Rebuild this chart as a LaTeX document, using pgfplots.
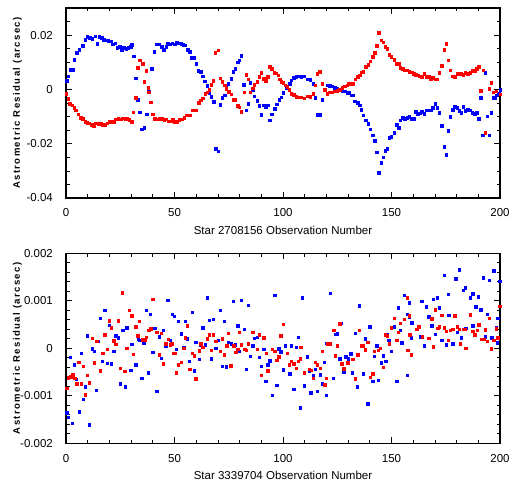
\documentclass[border=0pt]{standalone}
\usepackage{fontspec}
\setmainfont{Liberation Sans}
\newfontfamily\ylabfont[LetterSpace=15]{Liberation Sans}
\usepackage{pgfplots}
\pgfplotsset{compat=1.18}
\definecolor{ptblue}{RGB}{0,0,255}
\definecolor{ptred}{RGB}{255,0,0}
\pgfplotsset{
  resid/.style={
    width=434pt, height=190pt, scale only axis,
    xmin=0, xmax=200, xtick={0,50,...,200}, minor x tick num=4,
    axis line style={line width=1.2pt},
    tick style={black, line width=0.7pt},
    major tick length=6pt, minor tick length=3.5pt,
    tick align=inside,
    scaled y ticks=false,
    /pgf/number format/fixed,
    /pgf/number format/assume math mode=true,
    ticklabel style={font=\fontsize{11.5}{13}\selectfont, inner sep=0pt},
    xticklabel style={anchor=center, yshift=-15pt},
    yticklabel style={anchor=east, xshift=-13pt},
    xlabel style={at={(axis description cs:0.5,-0.168)}, anchor=center,
      font=\fontsize{11.5}{13}\selectfont},
    ylabel style={at={(axis description cs:-0.112,0.5)}, anchor=center,
      font=\ylabfont\bfseries\fontsize{9.5}{11}\selectfont},
    ylabel={Astrometric Residual (arcsec)},
  },
  blueser/.style={only marks, mark=square*, mark size=1.3pt, color=ptblue},
  redser/.style={only marks, mark=square*, mark size=1.3pt, color=ptred},
}
\begin{document}
\begin{tikzpicture}
\path[use as bounding box] (0,0) rectangle (513pt,487pt);

% star 2708156
\begin{axis}[resid, at={(66pt,289pt)}, anchor=south west,
  ymin=-0.04, ymax=0.03, ytick={-0.04,-0.02,0,0.02},
  minor ytick={-0.035,-0.03,-0.025,-0.015,-0.01,-0.005,0.005,0.01,0.015,0.025},
  xlabel={Star 2708156 Observation Number}]
\addplot[blueser] coordinates {
(0.3,0.0033) (1,0.0049) (2.3,0.0072) (3,0.0072) (3.8,0.011) (4.9,0.0135)
(6,0.0147) (7.6,0.016) (8.8,0.0184) (9.8,0.0194) (11,0.019) (12,0.0187)
(13.5,0.0196) (14.4,0.0169) (15.3,0.0194) (16.4,0.019) (17.5,0.0184)
(18.6,0.0181) (19.5,0.018) (20.6,0.0178) (21.6,0.0166) (22.6,0.017)
(23.6,0.0153) (24.7,0.0158) (25.6,0.0147) (26.7,0.0153) (27.7,0.015)
(28.6,0.0153) (29.7,0.0158) (30.4,0.0164) (31.1,0.0123) (32.1,0.0042)
(33,-0.0037) (34,-0.0084) (35,-0.0147) (36,-0.0141) (37.3,-0.0092)
(38.2,-0.0006) (39.6,0.0076) (40.6,0.0139) (41.9,0.0166) (42.8,0.0166)
(44,0.0157) (45,0.0147) (46.1,0.0157) (47,0.0168) (48,0.0166) (49,0.017)
(50,0.0167) (51,0.0172) (52,0.017) (53,0.0168) (54,0.0164) (55,0.0163)
(56,0.0147) (57,0.0139) (58,0.0117) (59,0.0116) (60,0.0095) (61,0.007)
(62,0.0065) (63,0.0049) (64,0.0031) (65,0.0013) (66,-0.0012) (67,-0.0027)
(68,-0.0045) (69,-0.0218) (70.2,-0.0228) (71.1,-0.0056) (72,-0.0031)
(73,-0.0021) (73.9,0.0006) (74.8,0.0022) (76.2,0.0039) (77.1,0.0065)
(78,0.0076) (79,0.0101) (79.9,0.0108) (80.8,0.0124) (82,0.0017)
(83.1,-0.0076) (84,-0.0053) (84.9,0.0025) (85.9,0) (86.8,-0.0025)
(88.1,-0.0042) (89.1,-0.006) (90,-0.0093) (91,-0.0058) (92,-0.0064)
(92.9,-0.0058) (93.9,-0.0113) (94.8,-0.0092) (96.3,-0.0071) (97.1,-0.0055)
(98.2,-0.0037) (99.1,-0.0028) (100,-0.0012) (101.5,0.0004) (103,0.0021)
(103.8,0.0034) (105,0.0043) (106,0.0047) (107.2,0.0049) (108.4,0.0047)
(109.7,0.0049) (111.2,0.0037) (112.6,0.0036) (114,0.0021) (114.9,-0.0031)
(115.8,-0.0093) (117,-0.0093) (118.1,-0.0037) (119.2,-0.0002) (120.3,0.0016)
(121.5,0.0014) (122.6,0.0012) (123.8,0.0006) (125,0.0005) (126.1,0)
(127.3,-0.0006) (128.4,-0.0006) (129.5,-0.0012) (130.4,-0.0012)
(131.5,-0.0022) (132.3,-0.0022) (133,-0.0043) (134.3,-0.0049)
(135.4,-0.0058) (136.1,-0.0074) (137,-0.0095) (138.2,-0.0114)
(139.2,-0.0126) (140.2,-0.0147) (141.2,-0.0168) (142.3,-0.019)
(143.2,-0.0231) (144.1,-0.0307) (145.3,-0.027) (146.2,-0.025)
(147.1,-0.0225) (148,-0.0218) (149,-0.0178) (149.9,-0.0174) (151.3,-0.016)
(152.4,-0.0129) (153.3,-0.0141) (154,-0.0114) (155.1,-0.0104)
(156.2,-0.0108) (157.3,-0.0104) (158.2,-0.0101) (159.3,-0.0108)
(160.2,-0.0108) (161.2,-0.0082) (162.1,-0.0089) (163,-0.0087) (164,-0.0082)
(165.1,-0.0089) (166,-0.0077) (167.1,-0.0077) (168,-0.0076) (169.1,-0.0068)
(170.2,-0.0053) (171.1,-0.0068) (172,-0.0086) (173,-0.0134) (174.3,-0.0211)
(175.2,-0.024) (176.2,-0.0152) (177.1,-0.0101) (178.2,-0.0074)
(179.1,-0.0064) (180.2,-0.0068) (181.2,-0.0078) (182.2,-0.0086)
(183.1,-0.0064) (184,-0.0078) (185.1,-0.0074) (186.2,-0.0076)
(187.2,-0.0086) (188.3,-0.0089) (189.2,-0.0086) (190.2,-0.0107)
(191.1,-0.0031) (192,-0.0169) (193.1,0.0061) (194.1,-0.0098)
(195.1,-0.0169) (196,-0.0086) (197.1,-0.0031) (197.8,-0.0031)
(198.6,-0.0021) (199.4,-0.0015) (200,0)
};
\addplot[redser] coordinates {
(0,-0.0015) (1,-0.0034) (1.8,-0.0053) (2.9,-0.0058) (3.7,-0.0067)
(4.6,-0.0076) (5.7,-0.0092) (6.8,-0.0104) (7.7,-0.0107) (8.8,-0.0119)
(9.8,-0.0123) (10.7,-0.0125) (11.8,-0.0129) (12.9,-0.0135) (13.8,-0.0125)
(14.9,-0.0127) (16,-0.0127) (16.9,-0.0129) (18,-0.0131) (19,-0.0125)
(20,-0.0119) (21,-0.0121) (22.1,-0.0118) (23,-0.011) (24.1,-0.0108)
(25.2,-0.011) (26.1,-0.0106) (27.2,-0.0107) (28.2,-0.0108) (29.2,-0.0112)
(30.3,-0.012) (31,-0.0084) (32.1,-0.0031) (33,0.008) (34.1,0.0108)
(35.3,0.0095) (36.1,0.0028) (36.9,0.0068) (37.8,0.0006) (38.1,-0.001)
(39,-0.0047) (40,-0.0092) (41,-0.0108) (42.1,-0.011) (43,-0.0107)
(44.1,-0.0108) (45.2,-0.0112) (46.1,-0.011) (47.1,-0.0117) (48.2,-0.0117)
(49.2,-0.0112) (50.2,-0.0119) (51.3,-0.0119) (52.2,-0.0112) (53.3,-0.011)
(54.4,-0.0104) (55.3,-0.0095) (56.2,-0.0095) (57.1,-0.0095) (58.1,-0.0076)
(59,-0.0076) (59.9,-0.0076) (61.1,-0.0049) (62.1,-0.004) (63,-0.0033)
(64.2,-0.0015) (65.1,-0.001) (66,-0.0002) (67,0.0017) (67.9,0.0032)
(68.8,0.0135) (70.2,0.0144) (71.1,0.0042) (72,0.0028) (73,0.0015)
(73.9,0.0003) (75,-0.0008) (76.2,-0.0018) (77.1,-0.0038) (78,-0.0038)
(79,-0.006) (79.9,-0.0065) (80.8,-0.0081) (82.2,-0.001) (83.1,0.0054)
(84,0.0037) (84.9,-0.001) (85.9,0.0004) (86.8,0.0017) (88.1,0.0029)
(89.1,0.0047) (90,0.0061) (91,0.0039) (92,0.0032) (92.9,0.0047)
(93.9,0.0084) (94.9,0.0076) (95.9,0.0061) (96.8,0.006) (97.7,0.0052)
(98.5,0.0037) (99.2,0.0028) (100.1,0.0025) (101,0.0015) (102,0.0009)
(102.9,-0.0001) (103.8,-0.0015) (105,-0.002) (106.1,-0.0027)
(107.2,-0.0028) (108.4,-0.0028) (109.7,-0.0032) (111.2,-0.0025)
(112.6,-0.0027) (114,-0.0015) (114.9,0.0016) (115.8,0.0058) (117,0.0066)
(118.1,0.0022) (119.2,0) (120.3,-0.0015) (121.5,-0.001) (122.6,-0.001)
(123.8,-0.0006) (125,-0.0004) (126.1,0) (127.2,0.0006) (128.4,0.0012)
(129.5,0.0016) (130.4,0.0021) (131.5,0.0021) (132.3,0.0021) (133.3,0.0037)
(134.3,0.0047) (135.4,0.0052) (136.1,0.0064) (137,0.0066) (138.2,0.0084)
(139.2,0.0092) (140.2,0.0104) (141.2,0.012) (142.3,0.0135) (143.2,0.016)
(144.1,0.0209) (145.3,0.0182) (146.2,0.0174) (147.1,0.0157) (148,0.015)
(149,0.0129) (149.9,0.012) (151.3,0.011) (152.4,0.0095) (153.3,0.0095)
(154,0.008) (155.1,0.0076) (156.2,0.0071) (157.3,0.0071) (158.2,0.0065)
(159.3,0.0064) (160.2,0.0059) (161.2,0.0055) (162.1,0.0053) (163,0.0049)
(164,0.0047) (165.1,0.0058) (166,0.0047) (167.1,0.0047) (168,0.0039)
(169.1,0.0043) (170.2,0.0037) (171.1,0.0037) (172,0.0061) (173,0.0088)
(174.3,0.0147) (175.2,0.0169) (176.2,0.0108) (177.1,0.0071) (178.2,0.0049)
(179.1,0.0047) (180.2,0.0058) (181.2,0.0059) (182.2,0.0059) (183.1,0.0055)
(184,0.0061) (185.1,0.0059) (186.2,0.0061) (187.2,0.0068) (188.3,0.0068)
(189.2,0.0077) (190.2,0.0084) (191.1,-0.0004) (192.2,0.0071)
(193.1,-0.016) (195.1,0.0003) (196,0.0025) (196.9,-0.001) (198.2,-0.0006)
(200,-0.0018)
};
\end{axis}

% star 3339704
\begin{axis}[resid, at={(66pt,43.7pt)}, anchor=south west,
  ymin=-0.002, ymax=0.002, ytick={-0.002,-0.001,0,0.001,0.002},
  minor y tick num=4,
  yticklabel style={/pgf/number format/precision=3},
  xlabel={Star 3339704 Observation Number}]
\addplot[blueser] coordinates {
(0.2,-0.00136) (1,-0.00145) (2,-0.00019) (2.9,-0.00158) (3.8,-0.00034)
(4.7,-0.00065) (6,-0.00133) (7,-0.0001) (7.9,-0.00107) (8.9,-0.00081)
(9.8,0.00026) (10.6,-0.00161) (12.1,-0.00001) (13,-0.00006) (14,-0.00088)
(14.7,0.00015) (15.8,0.00063) (16.7,-0.00027) (17.8,0.0008) (19,-0.00031)
(19.9,0.00049) (20.9,-0.00033) (21.9,-0.00006) (22.9,0.00026) (24,0.00022)
(25,-0.00074) (26.1,0.00038) (27.2,-0.00081) (27.9,0.00043) (29.7,-0.00046)
(30.2,0.00009) (32,-0.00035) (33.2,0.0002) (33.8,0.00017) (35,-0.00063)
(35.9,0.00011) (36.9,0.0008) (37.8,-0.00051) (38.8,0.00072) (39.9,-0.00008)
(40.9,0.00042) (41.9,-0.0009) (42.9,0.00024) (43.9,-0.00021) (44.7,0.00038)
(45.9,0.00005) (47,0.00101) (48,0.00017) (49,0.00072) (49.8,0.00068)
(50.8,-0.00002) (51.7,0.00057) (53,0.00031) (54.1,0.00002) (55,0.00057)
(55.9,0.0002) (56.8,-0.00027) (58.1,0.00076) (59,-0.00047) (59.8,0.00013)
(61.3,-0.00023) (62.2,0.00007) (63,0.00043) (64.2,0.00007) (65.1,0.00107)
(66,0.00059) (67,-0.00022) (67.9,0.00061) (69,0) (70.2,0.00017)
(71.1,0.0008) (72,-0.00038) (72.9,0.00057) (73.9,-0.00039) (74.7,0.00013)
(76.2,0.0001) (77.1,0.00099) (77.9,0.00007) (79,0.00048) (79.9,-0.00006)
(80.8,0.00101) (82.1,0.0004) (83.1,-0.00044) (84,0.00091) (84.9,-0.00017)
(85.9,0.00006) (86.8,0.00021) (88.1,0.00023) (89.1,-0.00019) (90,-0.00038)
(91,-0.00002) (92,-0.00069) (92.9,-0.00035) (94,-0.00026) (95.1,-0.00099)
(96.3,0.00112) (97.1,-0.00078) (98,-0.00001) (98.8,-0.00007)
(100.1,-0.00045) (101,0.00006) (103,-0.00053) (103.8,0.00005)
(105,-0.00086) (106.1,0.00002) (107,0.00023) (107.9,-0.00125)
(108.9,0.00107) (109.8,-0.00079) (111.2,-0.00018) (112.1,-0.00048)
(112.9,-0.00093) (114,-0.00057) (114.9,-0.00044) (115.8,-0.0009)
(117.2,-0.00055) (118.1,-0.00074) (119,-0.00029) (119.9,-0.00099)
(120,0.00011) (121.8,0.00116) (123.1,-0.00063) (124.1,0.0003) (125,0.00031)
(126.1,-0.00022) (126.8,0.00053) (128,-0.00049) (128.9,-0.00018)
(130,-0.00022) (131.3,-0.00011) (131.9,-0.00051) (133.2,0.00032)
(134.1,-0.00081) (135.2,0.0009) (137,-0.00053) (137.9,0.0002)
(139.1,-0.00116) (139.9,0.00046) (141.2,-0.00069) (142,-0.00017)
(143.2,0.00005) (143.9,-0.00067) (145.3,-0.0003) (146.2,-0.00015)
(147.1,-0.00027) (147.5,-0.00027) (147.7,0.00029) (148.8,0.00017)
(149.9,-0.00006) (151.3,0.00046) (152.4,-0.00069) (153.1,0.00085)
(154,0.00038) (154.8,0.00012) (155.9,0.00112) (157.3,-0.00057)
(157.3,0.00072) (158.2,0.00067) (158.2,0.00096) (159.1,0.00022)
(159.3,0.00054) (163.3,0.00025) (164,0.00099) (165.1,0.00006) (166,0.00088)
(167.1,0.00067) (168.6,0.00048) (169.3,0.00103) (170.2,0.0003)
(171.1,0.00106) (172,0.00086) (173,0.00017) (174.3,0.00154) (175.2,0.00008)
(176.2,0.00114) (176.3,0.0007) (178.2,0.0001) (179.7,0.00147)
(180.2,0.00034) (181.2,0.00166) (182.2,0.00022) (183.1,0.00122)
(184,0.00128) (184.3,0.00042) (186.2,0.00107) (187.4,0.00115)
(187.5,0.00048) (188.9,0.00088) (189.9,0.00109) (191.1,0.00081)
(192.3,0.00149) (193.1,0.00024) (194.1,0.00072) (195.1,0.00143)
(196.3,0.00022) (197.1,0.00163) (198.2,0.00043) (198.7,0.00012)
(199,0.00063) (199.9,0.00141)
};
\addplot[redser] coordinates {
(0.2,-0.00084) (1,-0.00062) (2.2,-0.0006) (3.2,-0.00055) (4,-0.00063)
(4.9,-0.00074) (5.8,-0.00029) (7,-0.00074) (8,-0.00038) (8.8,-0.00098)
(9.8,-0.00057) (10.6,-0.00073) (12.1,0.00021) (13,-0.0003) (14.1,0.00015)
(15.8,-0.00047) (16.9,-0.0001) (17.8,0.00029) (18.9,-0.00002)
(19.9,0.00058) (20.9,0.00043) (21.9,0.00016) (22.9,0.00009) (24,0.00058)
(24.9,-0.00042) (25.9,0.00117) (27,-0.00048) (27.9,0) (29.1,0.0008)
(30.3,0.00069) (30.9,-0.00012) (32,0.00046) (33,0.00026) (33.8,0.00057)
(35.2,0.00018) (36.2,0.00018) (36.9,0.00023) (38,0.00038) (39,0.00041)
(39.9,0.00103) (41.9,0.00034) (42.9,-0.00013) (43.9,0.00032)
(44.8,-0.00032) (45.9,0.0001) (47.1,0.00019) (48,0.00008) (48.7,0.0001)
(49.5,-0.0001) (50.1,-0.0001) (50.8,-0.00051) (51.7,-0.00034)
(53,-0.00029) (54.1,0) (55,0.00022) (55.9,0.00048) (57,-0.00044)
(58.1,-0.0001) (59,-0.00015) (59.9,-0.00064) (61.3,-0.00005) (62.2,0.0001)
(63.1,0.00002) (65,0.0002) (66,0.00029) (67,-0.00004) (67.9,0.00029)
(69.1,0.00015) (71.1,-0.00006) (72,0.0002) (72.9,-0.00013) (74,0.00006)
(74.7,0.00032) (76,-0.00036) (77.3,0.00006) (78.2,-0.00008) (79,-0.00002)
(79.9,0.00034) (80.8,0.00008) (82.4,-0.00002) (83.1,-0.00004) (84,0.0001)
(85.9,0.00034) (88.1,-0.00002) (89.1,0.00029) (90,-0.00057) (91,0.00022)
(92.2,-0.0001) (92.9,-0.00047) (95.1,-0.00002) (96.2,-0.00006)
(97.1,-0.00025) (98,-0.00018) (98.9,0.00027) (100,0.00051) (102,-0.0001)
(102.9,-0.00034) (103.8,-0.00027) (104.9,-0.00032) (106,-0.00042)
(107,-0.00027) (107.9,-0.00022) (108.2,0.00002) (109.7,-0.00051)
(112,-0.00044) (113,-0.00046) (114,-0.00063) (114.9,-0.00029)
(115.8,-0.00034) (117.2,-0.00042) (118.1,-0.00006) (119.2,-0.00077)
(119.9,-0.00063) (120.3,0.0001) (121.8,0.0001) (123.3,0.00038)
(124.1,-0.00015) (125,0.00006) (126.1,0.00052) (127,-0.00033)
(128,-0.00043) (129.8,-0.0003) (132.1,-0.00023) (133.2,-0.00064)
(134.3,-0.00013) (135.2,0.00038) (136.1,0.00006) (137,0.00006)
(137.9,-0.00003) (139.1,0.00013) (140.2,-0.00061) (141.2,-0.00054)
(142,-0.00006) (143.9,-0.00004) (144.8,0) (146.2,-0.0004) (147.1,0.00029)
(148,0.00026) (149,0.0001) (149.9,0.00044) (151.3,0.00063) (152.4,0.00017)
(153.1,0.00034) (154,0.00053) (155.9,0.00061) (157.3,0.00107)
(157.4,-0.00004) (158.2,0.00069) (158.3,0.00029) (159.1,-0.00013)
(161.6,0.0004) (162.6,0.00045) (164.1,0.00024) (167.1,0.00021)
(168.6,0.00062) (169.3,0.00003) (170.2,0.00081) (171.3,0.00042)
(172,0.00045) (173.1,0.0007) (174.3,0.00043) (175.2,0.00036)
(176.2,0.00017) (177.1,0.00038) (178.2,0.0004) (179.1,0.00069)
(180.2,0.00046) (181.2,0.0004) (181.6,0.0001) (183.1,0.0004) (184,0.0004)
(184.3,0) (186.2,0.00071) (187.4,0.00036) (188.4,0.00029) (189.4,0.00038)
(190.3,0.0005) (191.7,0.00019) (192.5,0.00019) (193.1,0.00039)
(194.1,0.00015) (195.1,0.00063) (196,-0.00001) (197.1,0.00017)
(198.2,0.00041) (199,0.00022) (199.9,0.00089)
};
\end{axis}
\end{tikzpicture}
\end{document}
